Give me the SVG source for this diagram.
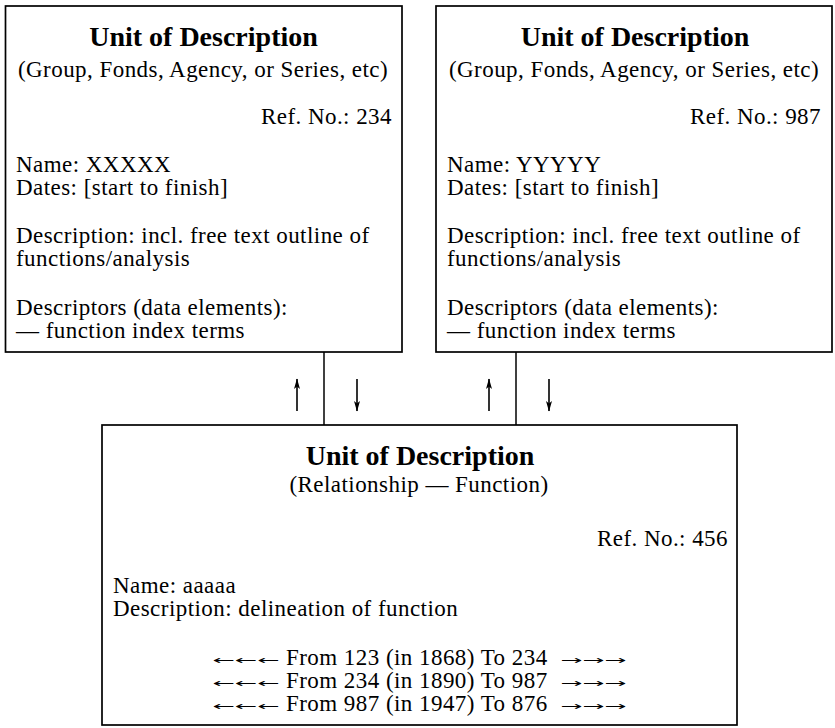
<svg xmlns="http://www.w3.org/2000/svg" width="835" height="728" viewBox="0 0 835 728">
<style>
  .box { fill: #fff; stroke: #000; stroke-width: 1.7; }
  .title { font-family: "Liberation Serif", "Times New Roman", serif; font-weight: bold; font-size: 28px; fill: #000; text-anchor: middle; }
  .body { font-family: "Liberation Serif", "Times New Roman", serif; font-size: 23px; letter-spacing: 0.45px; fill: #000; }
  .mid { text-anchor: middle; }
  .end { text-anchor: end; }
  .arr { font-family: "DejaVu Sans", sans-serif; font-size: 12px; fill: #000; }
  .conn { stroke: #000; stroke-width: 1.5; fill: none; }
  .dir { stroke: #000; stroke-width: 1.6; fill: none; marker-end: url(#head); }
</style>
<defs>
  <marker id="head" markerUnits="userSpaceOnUse" markerWidth="11" markerHeight="7" refX="10" refY="3.5" orient="auto">
    <path d="M0,0.5 L10.5,3.5 L0,6.5 L2.5,3.5 z" fill="#000"/>
  </marker>
</defs>
<rect width="835" height="728" fill="#fff"/>

<g id="connectors">
  <line class="conn" x1="324" y1="352" x2="324" y2="425"/>
  <line class="conn" x1="516" y1="352" x2="516" y2="425"/>
  <line class="dir" x1="297" y1="411" x2="297" y2="379"/>
  <line class="dir" x1="357" y1="379" x2="357" y2="411"/>
  <line class="dir" x1="489" y1="411" x2="489" y2="379"/>
  <line class="dir" x1="549" y1="379" x2="549" y2="411"/>
</g>

<g id="unit-234">
  <rect class="box" x="5.5" y="6" width="396.5" height="346"/>
  <text class="title" x="203.5" y="46">Unit of Description</text>
  <text class="body mid" x="203" y="77">(Group, Fonds, Agency, or Series, etc)</text>
  <text class="body end" x="392" y="124">Ref. No.: 234</text>
  <text class="body" x="16" y="172">Name: XXXXX</text>
  <text class="body" x="16" y="195">Dates: [start to finish]</text>
  <text class="body" x="16" y="243">Description: incl. free text outline of</text>
  <text class="body" x="16" y="266">functions/analysis</text>
  <text class="body" x="16" y="315">Descriptors (data elements):</text>
  <text class="body" x="16" y="338">— function index terms</text>
</g>

<g id="unit-987">
  <rect class="box" x="436" y="6" width="396" height="346"/>
  <text class="title" x="635" y="46">Unit of Description</text>
  <text class="body mid" x="634" y="77">(Group, Fonds, Agency, or Series, etc)</text>
  <text class="body end" x="821" y="124">Ref. No.: 987</text>
  <text class="body" x="447" y="172">Name: YYYYY</text>
  <text class="body" x="447" y="195">Dates: [start to finish]</text>
  <text class="body" x="447" y="243">Description: incl. free text outline of</text>
  <text class="body" x="447" y="266">functions/analysis</text>
  <text class="body" x="447" y="315">Descriptors (data elements):</text>
  <text class="body" x="447" y="338">— function index terms</text>
</g>

<g id="unit-456">
  <rect class="box" x="102" y="425" width="635" height="300"/>
  <text class="title" x="420" y="465">Unit of Description</text>
  <text class="body mid" x="419" y="492">(Relationship — Function)</text>
  <text class="body end" x="728" y="546">Ref. No.: 456</text>
  <text class="body" x="113" y="593">Name: aaaaa</text>
  <text class="body" x="113" y="616">Description: delineation of function</text>

  <text class="arr" x="213" y="664" textLength="67" lengthAdjust="spacingAndGlyphs">←←←</text>
  <text class="body" x="286" y="665">From 123 (in 1868) To 234</text>
  <text class="arr" x="560" y="664" textLength="66" lengthAdjust="spacingAndGlyphs">→→→</text>

  <text class="arr" x="213" y="687" textLength="67" lengthAdjust="spacingAndGlyphs">←←←</text>
  <text class="body" x="286" y="688">From 234 (in 1890) To 987</text>
  <text class="arr" x="560" y="687" textLength="66" lengthAdjust="spacingAndGlyphs">→→→</text>

  <text class="arr" x="213" y="710" textLength="67" lengthAdjust="spacingAndGlyphs">←←←</text>
  <text class="body" x="286" y="711">From 987 (in 1947) To 876</text>
  <text class="arr" x="560" y="710" textLength="66" lengthAdjust="spacingAndGlyphs">→→→</text>
</g>
</svg>
